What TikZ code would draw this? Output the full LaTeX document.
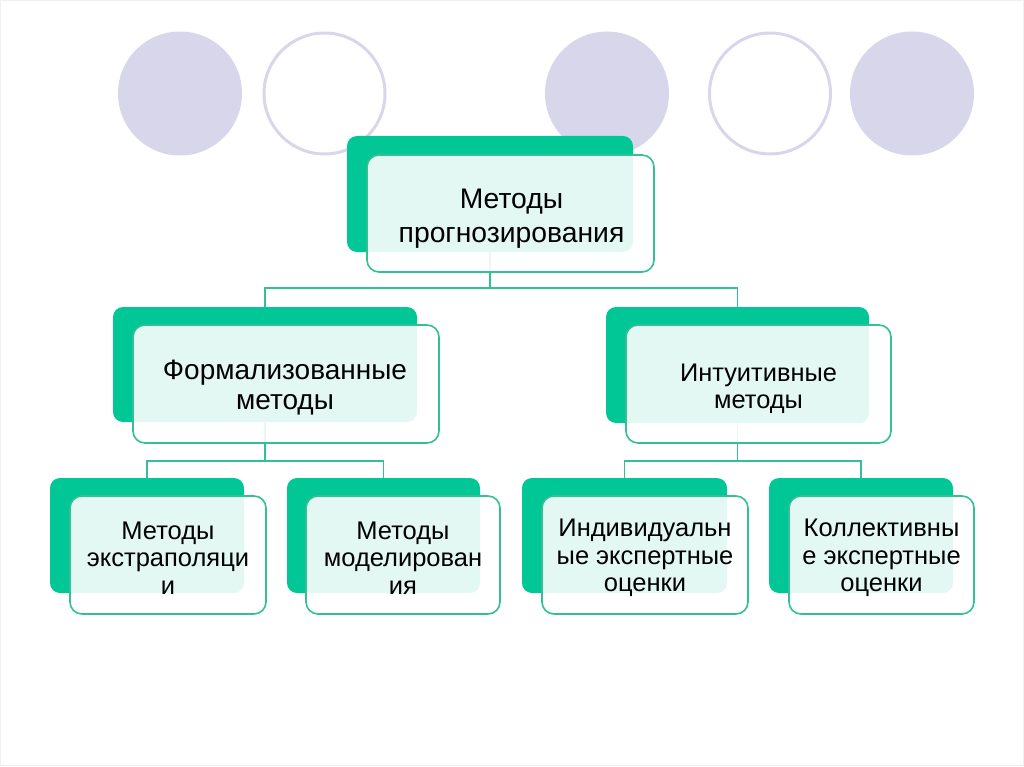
\documentclass[tikz,border=0pt]{standalone}
\usepackage{fontspec}
\setmainfont{Liberation Sans}
\usetikzlibrary{calc}
\definecolor{smgreen}{RGB}{0,199,149}
\definecolor{smline}{RGB}{52,192,150}
\definecolor{lav}{RGB}{216,214,234}
\tikzset{
  backbox/.style={fill=smgreen, rounded corners=10pt, inner sep=0pt, draw=none},
  frontbox/.style={draw=smline, line width=1.6pt, fill=white, fill opacity=0.89,
    rounded corners=12pt, inner sep=0pt},
  txt/.style={align=center, text=black, inner sep=0pt},
  conn/.style={draw=smline, line width=1.6pt},
  dotfill/.style={circle, fill=lav, minimum size=124pt, inner sep=0pt},
  dotring/.style={circle, draw=lav, line width=3pt, minimum size=121pt, inner sep=0pt},
}
\begin{document}
\begin{tikzpicture}[x=1pt,y=-1pt]
\useasboundingbox (0,0) rectangle (1024,767);
\draw[black!6, line width=1pt] (0.5,0.5) rectangle (1023.5,765.5);
% circles
\node[dotfill] (c1) at (180,93.5) {};
\node[dotring] (c2) at (324.5,93.5) {};
\node[dotfill] (c3) at (607,93.5) {};
\node[dotring] (c4) at (770,93.5) {};
\node[dotfill] (c5) at (912,93.5) {};
% back boxes
\node[backbox, minimum width=286pt, minimum height=116pt] (topB) at (490,194) {};
\node[backbox, minimum width=304pt, minimum height=115pt] (flB) at (265,364.5) {};
\node[backbox, minimum width=263pt, minimum height=116pt] (inB) at (737.5,365) {};
\node[backbox, minimum width=194pt, minimum height=115pt] (exB) at (147,535.5) {};
\node[backbox, minimum width=193pt, minimum height=115pt] (moB) at (383.5,535.5) {};
\node[backbox, minimum width=205pt, minimum height=115pt] (indB) at (624.5,535.5) {};
\node[backbox, minimum width=184pt, minimum height=115pt] (colB) at (861,535.5) {};
% connectors
\draw[conn] (topB.south) -- ++(0,36) coordinate (j1) -| (flB.north);
\draw[conn] (j1) -| (inB.north);
\draw[conn] (flB.south) -- ++(0,39) coordinate (j2) -| (exB.north);
\draw[conn] (j2) -| (moB.north);
\draw[conn] (inB.south) -- ++(0,38) coordinate (j3) -| (indB.north);
\draw[conn] (j3) -| (colB.north);
% front boxes
\node[frontbox, minimum width=287pt, minimum height=117pt] (top) at (510.5,213.5) {};
\node[frontbox, minimum width=306pt, minimum height=118pt] (fl) at (286,384) {};
\node[frontbox, minimum width=265pt, minimum height=118pt] (in) at (758.5,384) {};
\node[frontbox, minimum width=196pt, minimum height=118pt] (ex) at (168,555) {};
\node[frontbox, minimum width=194pt, minimum height=118pt] (mo) at (403,555) {};
\node[frontbox, minimum width=206pt, minimum height=118pt] (ind) at (645,555) {};
\node[frontbox, minimum width=185pt, minimum height=118pt] (col) at (881.5,555) {};
% texts
\node[txt, font=\fontsize{28.3}{34}\selectfont] (topT) at ($(top.center)+(1,5)$) {Методы\\прогнозирования};
\node[txt, font=\fontsize{28}{30}\selectfont] (flT) at ($(fl.center)+(-1,4)$) {Формализованные\\методы};
\node[txt, font=\fontsize{25.4}{27}\selectfont] (inT) at ($(in.center)+(0,4.5)$) {Интуитивные\\методы};
\node[txt, font=\fontsize{25.5}{27.5}\selectfont] (exT) at ($(ex.center)+(0,3)$) {Методы\\экстраполяци\\и};
\node[txt, font=\fontsize{25.5}{27.5}\selectfont] (moT) at ($(mo.center)+(0,3)$) {Методы\\моделирован\\ия};
\node[txt, font=\fontsize{25.5}{27.5}\selectfont] (indT) at ($(ind.center)+(0,3)$) {Индивидуальн\\ые экспертные\\оценки};
\node[txt, font=\fontsize{25.5}{27.5}\selectfont] (colT) at ($(col.center)+(0,3)$) {Коллективны\\е экспертные\\оценки};
\end{tikzpicture}
\end{document}
